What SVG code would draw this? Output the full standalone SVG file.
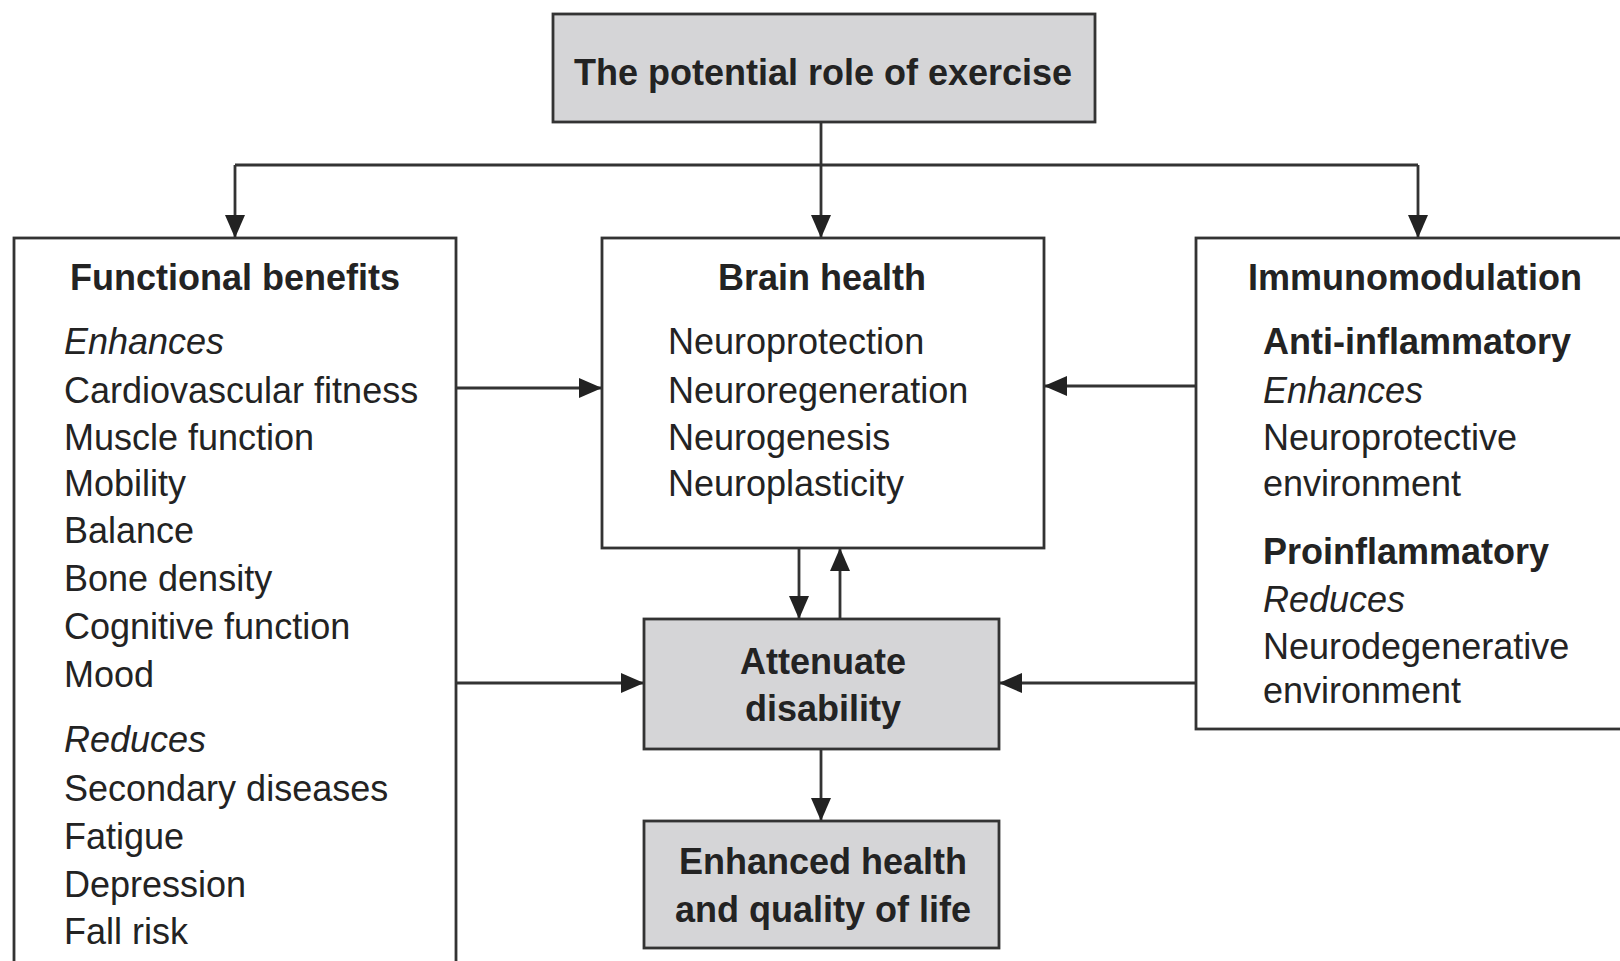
<svg xmlns="http://www.w3.org/2000/svg" width="1620" height="961" viewBox="0 0 1620 961">
<style>
.box{fill:#ffffff;stroke:#333333;stroke-width:2.8}
.gbox{fill:#d5d5d7;stroke:#333333;stroke-width:2.8}
.t{font-family:"Liberation Sans",Arial,sans-serif;font-size:36px;fill:#232323}
.b{font-weight:bold}
.i{font-style:italic}
.c{text-anchor:middle}
.ln{stroke:#333333;stroke-width:2.8;fill:none}
</style>
<defs>
<marker id="ah" markerUnits="userSpaceOnUse" markerWidth="26" markerHeight="22" refX="23" refY="10" orient="auto">
<path d="M0,0 L23,10 L0,20 z" fill="#222222"/>
</marker>
</defs>
<rect width="1620" height="961" fill="#ffffff"/>
<g id="connectors">
<line class="ln" x1="821" y1="122" x2="821" y2="238" marker-end="url(#ah)"/>
<line class="ln" x1="235" y1="165" x2="1418" y2="165"/>
<line class="ln" x1="235" y1="165" x2="235" y2="238" marker-end="url(#ah)"/>
<line class="ln" x1="1418" y1="165" x2="1418" y2="238" marker-end="url(#ah)"/>
<line class="ln" x1="456" y1="388" x2="602" y2="388" marker-end="url(#ah)"/>
<line class="ln" x1="1196" y1="386" x2="1044" y2="386" marker-end="url(#ah)"/>
<line class="ln" x1="456" y1="683" x2="644" y2="683" marker-end="url(#ah)"/>
<line class="ln" x1="1196" y1="683" x2="999" y2="683" marker-end="url(#ah)"/>
<line class="ln" x1="799" y1="548" x2="799" y2="619" marker-end="url(#ah)"/>
<line class="ln" x1="840" y1="619" x2="840" y2="548" marker-end="url(#ah)"/>
<line class="ln" x1="821" y1="749" x2="821" y2="821" marker-end="url(#ah)"/>
</g>
<g id="top">
<rect class="gbox" x="553" y="14" width="542" height="108"/>
<text class="t b c" x="823" y="85">The potential role of exercise</text>
</g>
<g id="functional">
<rect class="box" x="14" y="238" width="442" height="740"/>
<text class="t b c" x="235" y="290">Functional benefits</text>
<text class="t i" x="64" y="354">Enhances</text>
<text class="t" x="64" y="403">Cardiovascular fitness</text>
<text class="t" x="64" y="450">Muscle function</text>
<text class="t" x="64" y="496">Mobility</text>
<text class="t" x="64" y="543">Balance</text>
<text class="t" x="64" y="591">Bone density</text>
<text class="t" x="64" y="639">Cognitive function</text>
<text class="t" x="64" y="687">Mood</text>
<text class="t i" x="64" y="752">Reduces</text>
<text class="t" x="64" y="801">Secondary diseases</text>
<text class="t" x="64" y="849">Fatigue</text>
<text class="t" x="64" y="897">Depression</text>
<text class="t" x="64" y="944">Fall risk</text>
</g>
<g id="brain">
<rect class="box" x="602" y="238" width="442" height="310"/>
<text class="t b c" x="822" y="290">Brain health</text>
<text class="t" x="668" y="354">Neuroprotection</text>
<text class="t" x="668" y="403">Neuroregeneration</text>
<text class="t" x="668" y="450">Neurogenesis</text>
<text class="t" x="668" y="496">Neuroplasticity</text>
</g>
<g id="immuno">
<rect class="box" x="1196" y="238" width="440" height="491"/>
<text class="t b c" x="1415" y="290">Immunomodulation</text>
<text class="t b" x="1263" y="354">Anti-inflammatory</text>
<text class="t i" x="1263" y="403">Enhances</text>
<text class="t" x="1263" y="450">Neuroprotective</text>
<text class="t" x="1263" y="496">environment</text>
<text class="t b" x="1263" y="564">Proinflammatory</text>
<text class="t i" x="1263" y="612">Reduces</text>
<text class="t" x="1263" y="659">Neurodegenerative</text>
<text class="t" x="1263" y="703">environment</text>
</g>
<g id="attenuate">
<rect class="gbox" x="644" y="619" width="355" height="130"/>
<text class="t b c" x="823" y="674">Attenuate</text>
<text class="t b c" x="823" y="721">disability</text>
</g>
<g id="enhanced">
<rect class="gbox" x="644" y="821" width="355" height="127"/>
<text class="t b c" x="823" y="874">Enhanced health</text>
<text class="t b c" x="823" y="922">and quality of life</text>
</g>
</svg>
